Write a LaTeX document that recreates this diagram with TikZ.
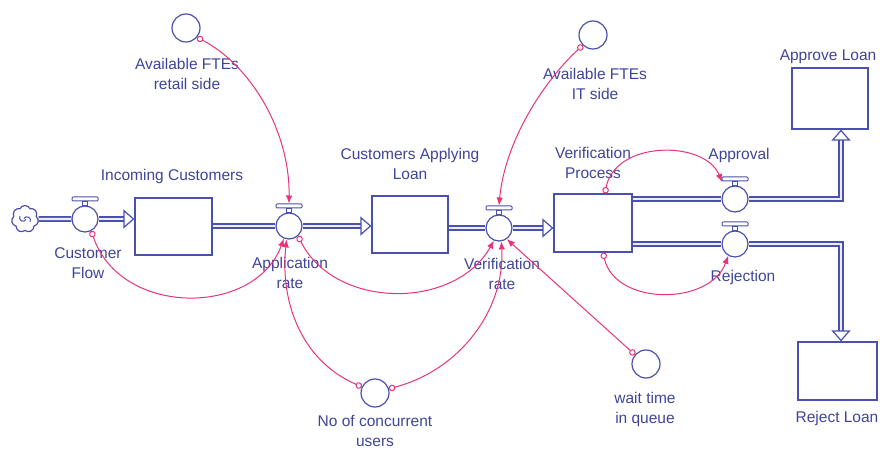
\documentclass[tikz,border=0pt]{standalone}
\usepackage{fontspec}
\setmainfont{Liberation Sans}
\usepackage{tikz}
\usetikzlibrary{arrows.meta,positioning,shapes.symbols,backgrounds}
\definecolor{sdBlue}{HTML}{4A50B0}
\definecolor{sdText}{HTML}{3F4499}
\definecolor{sdPink}{HTML}{E8337C}
\tikzset{
  stock/.style={rectangle, draw=sdBlue, fill=white, line width=1.2pt, inner sep=0pt},
  valve/.style={circle, draw=sdBlue, fill=white, line width=1.2pt, minimum size=26pt, inner sep=0pt},
  vbar/.style={rectangle, rounded corners=1pt, draw=sdBlue, fill=white, line width=1pt, minimum width=26pt, minimum height=4pt, inner sep=0pt},
  aux/.style={circle, draw=sdBlue, line width=1.2pt, minimum size=28pt, inner sep=0pt},
  source/.style={cloud, cloud puffs=7, cloud puff arc=130, aspect=1, draw=sdBlue, fill=white, line width=1.2pt, minimum width=27pt, minimum height=27pt, inner sep=0pt},
  pipe/.style={draw=sdBlue, line width=1.8pt, double=sdBlue!10, double distance=2.2pt},
  pipeto/.style={-{Triangle[length=11pt, width=19pt, fill=white, line width=1.2pt]}},
  link/.style={draw=sdPink, line width=1pt, {Circle[open, length=6.5pt, width=6.5pt, line width=1pt]}-{Latex[length=8pt, width=6.5pt]}},
  lbl/.style={text=sdText, align=center, inner sep=0pt, font=\fontsize{15.5}{20}\selectfont}
}
\begin{document}
\begin{tikzpicture}[x=1pt,y=1pt]
  \useasboundingbox (0,0) rectangle (880,450);
  \clip (0,0) rectangle (880,450);
  % stocks and flows
  \node[source] (src) at (25,231) {};
  \draw[sdBlue, line width=1pt] (src.center) ++(-5,3) arc (150:330:3.5) (src.center) ++(5,-3) arc (-30:150:3.5);
  \node[valve] (cf) at (85,231) {};
  \node[stock, minimum width=77pt, minimum height=57pt] (inc) at (173.5,223.5) {};
  \node[valve] (ar) at (289,224) {};
  \node[stock, minimum width=76pt, minimum height=57pt] (cal) at (410,225.5) {};
  \node[valve] (vr) at (499,222) {};
  \node[stock, minimum width=78pt, minimum height=58pt] (vp) at (593,227) {};
  \node[valve] (ap) at (735,251) {};
  \node[valve] (rj) at (735,206) {};
  \node[stock, minimum width=76pt, minimum height=61pt] (al) at (830,351.5) {};
  \node[stock, minimum width=79pt, minimum height=58pt] (rl) at (837.5,79) {};
  \foreach \v in {cf,ar,vr,ap,rj}{
    \node[vbar] (\v-h) at ([yshift=20pt]\v.center) {};
    \draw[sdBlue, line width=1pt, fill=white] ([xshift=-2.5pt]\v-h.south) rectangle ([xshift=2.5pt]\v.north);
  }
  % converters
  \node[aux] (ftr) at (186,422) {};
  \node[aux] (fti) at (593,415) {};
  \node[aux] (wq) at (646,86) {};
  \node[aux] (ncu) at (375,57) {};
  % labels
  \node[lbl] (cf-l) at (88,187) {Customer\\Flow};
  \node[lbl] (inc-l) at (172,274) {Incoming Customers};
  \node[lbl] (ar-l) at (290,177) {Application\\rate};
  \node[lbl] (cal-l) at (410,286) {Customers Applying\\Loan};
  \node[lbl] (vr-l) at (502,176) {Verification\\rate};
  \node[lbl] (vp-l) at (593,287) {Verification\\Process};
  \node[lbl] (ap-l) at (739,295) {Approval};
  \node[lbl] (rj-l) at (743,173) {Rejection};
  \node[lbl] (al-l) at (828,393) {Approve Loan};
  \node[lbl] (rl-l) at (837,32) {Reject Loan};
  \node[lbl] (ftr-l) at (187,376) {Available FTEs\\retail side};
  \node[lbl] (fti-l) at (595,366) {Available FTEs\\IT side};
  \node[lbl] (wq-l) at (645,41) {wait time\\in queue};
  \node[lbl] (ncu-l) at (375,19) {No of concurrent\\users};
  % pipes
  \begin{scope}[on background layer]
    \draw[pipe] (src) -- (cf);
    \draw[pipe,pipeto] (cf) -- (cf -| inc.west);
    \draw[pipe] (ar -| inc.east) -- (ar);
    \draw[pipe,pipeto] (ar) -- (ar -| cal.west);
    \draw[pipe] (vr -| cal.east) -- (vr);
    \draw[pipe,pipeto] (vr) -- (vr -| vp.west);
    \draw[pipe] (ap -| vp.east) -- (ap);
    \draw[pipe,pipeto] (ap) -| ([xshift=11pt]al.south);
    \draw[pipe] (rj -| vp.east) -- (rj);
    \draw[pipe,pipeto] (rj) -| ([xshift=3.5pt]rl.north);
  \end{scope}
  % connectors
  \draw[link] (cf.-62) .. controls (120,133) and (255,133) .. (ar.-112);
  \draw[link] (ftr.-40) .. controls (250,385) and (290,320) .. (ar-h.north);
  \draw[link] (ar.-48) .. controls (335,140) and (455,140) .. (vr.-112);
  \draw[link] (ncu.155) .. controls (300,90) and (280,150) .. (ar.-100);
  \draw[link] (ncu.17) .. controls (460,80) and (505,140) .. (vr.-80);
  \draw[link] (fti.-135) .. controls (545,370) and (505,310) .. (vr-h.north);
  \draw[link] (wq.140) -- (vr.-55);
  \draw[link] ([xshift=12pt]vp.north) .. controls (615,310) and (705,310) .. ([xshift=-13pt,yshift=17pt]ap.center);
  \draw[link] ([xshift=10pt]vp.south) .. controls (615,144) and (710,144) .. (rj.-120);
\end{tikzpicture}
\end{document}
